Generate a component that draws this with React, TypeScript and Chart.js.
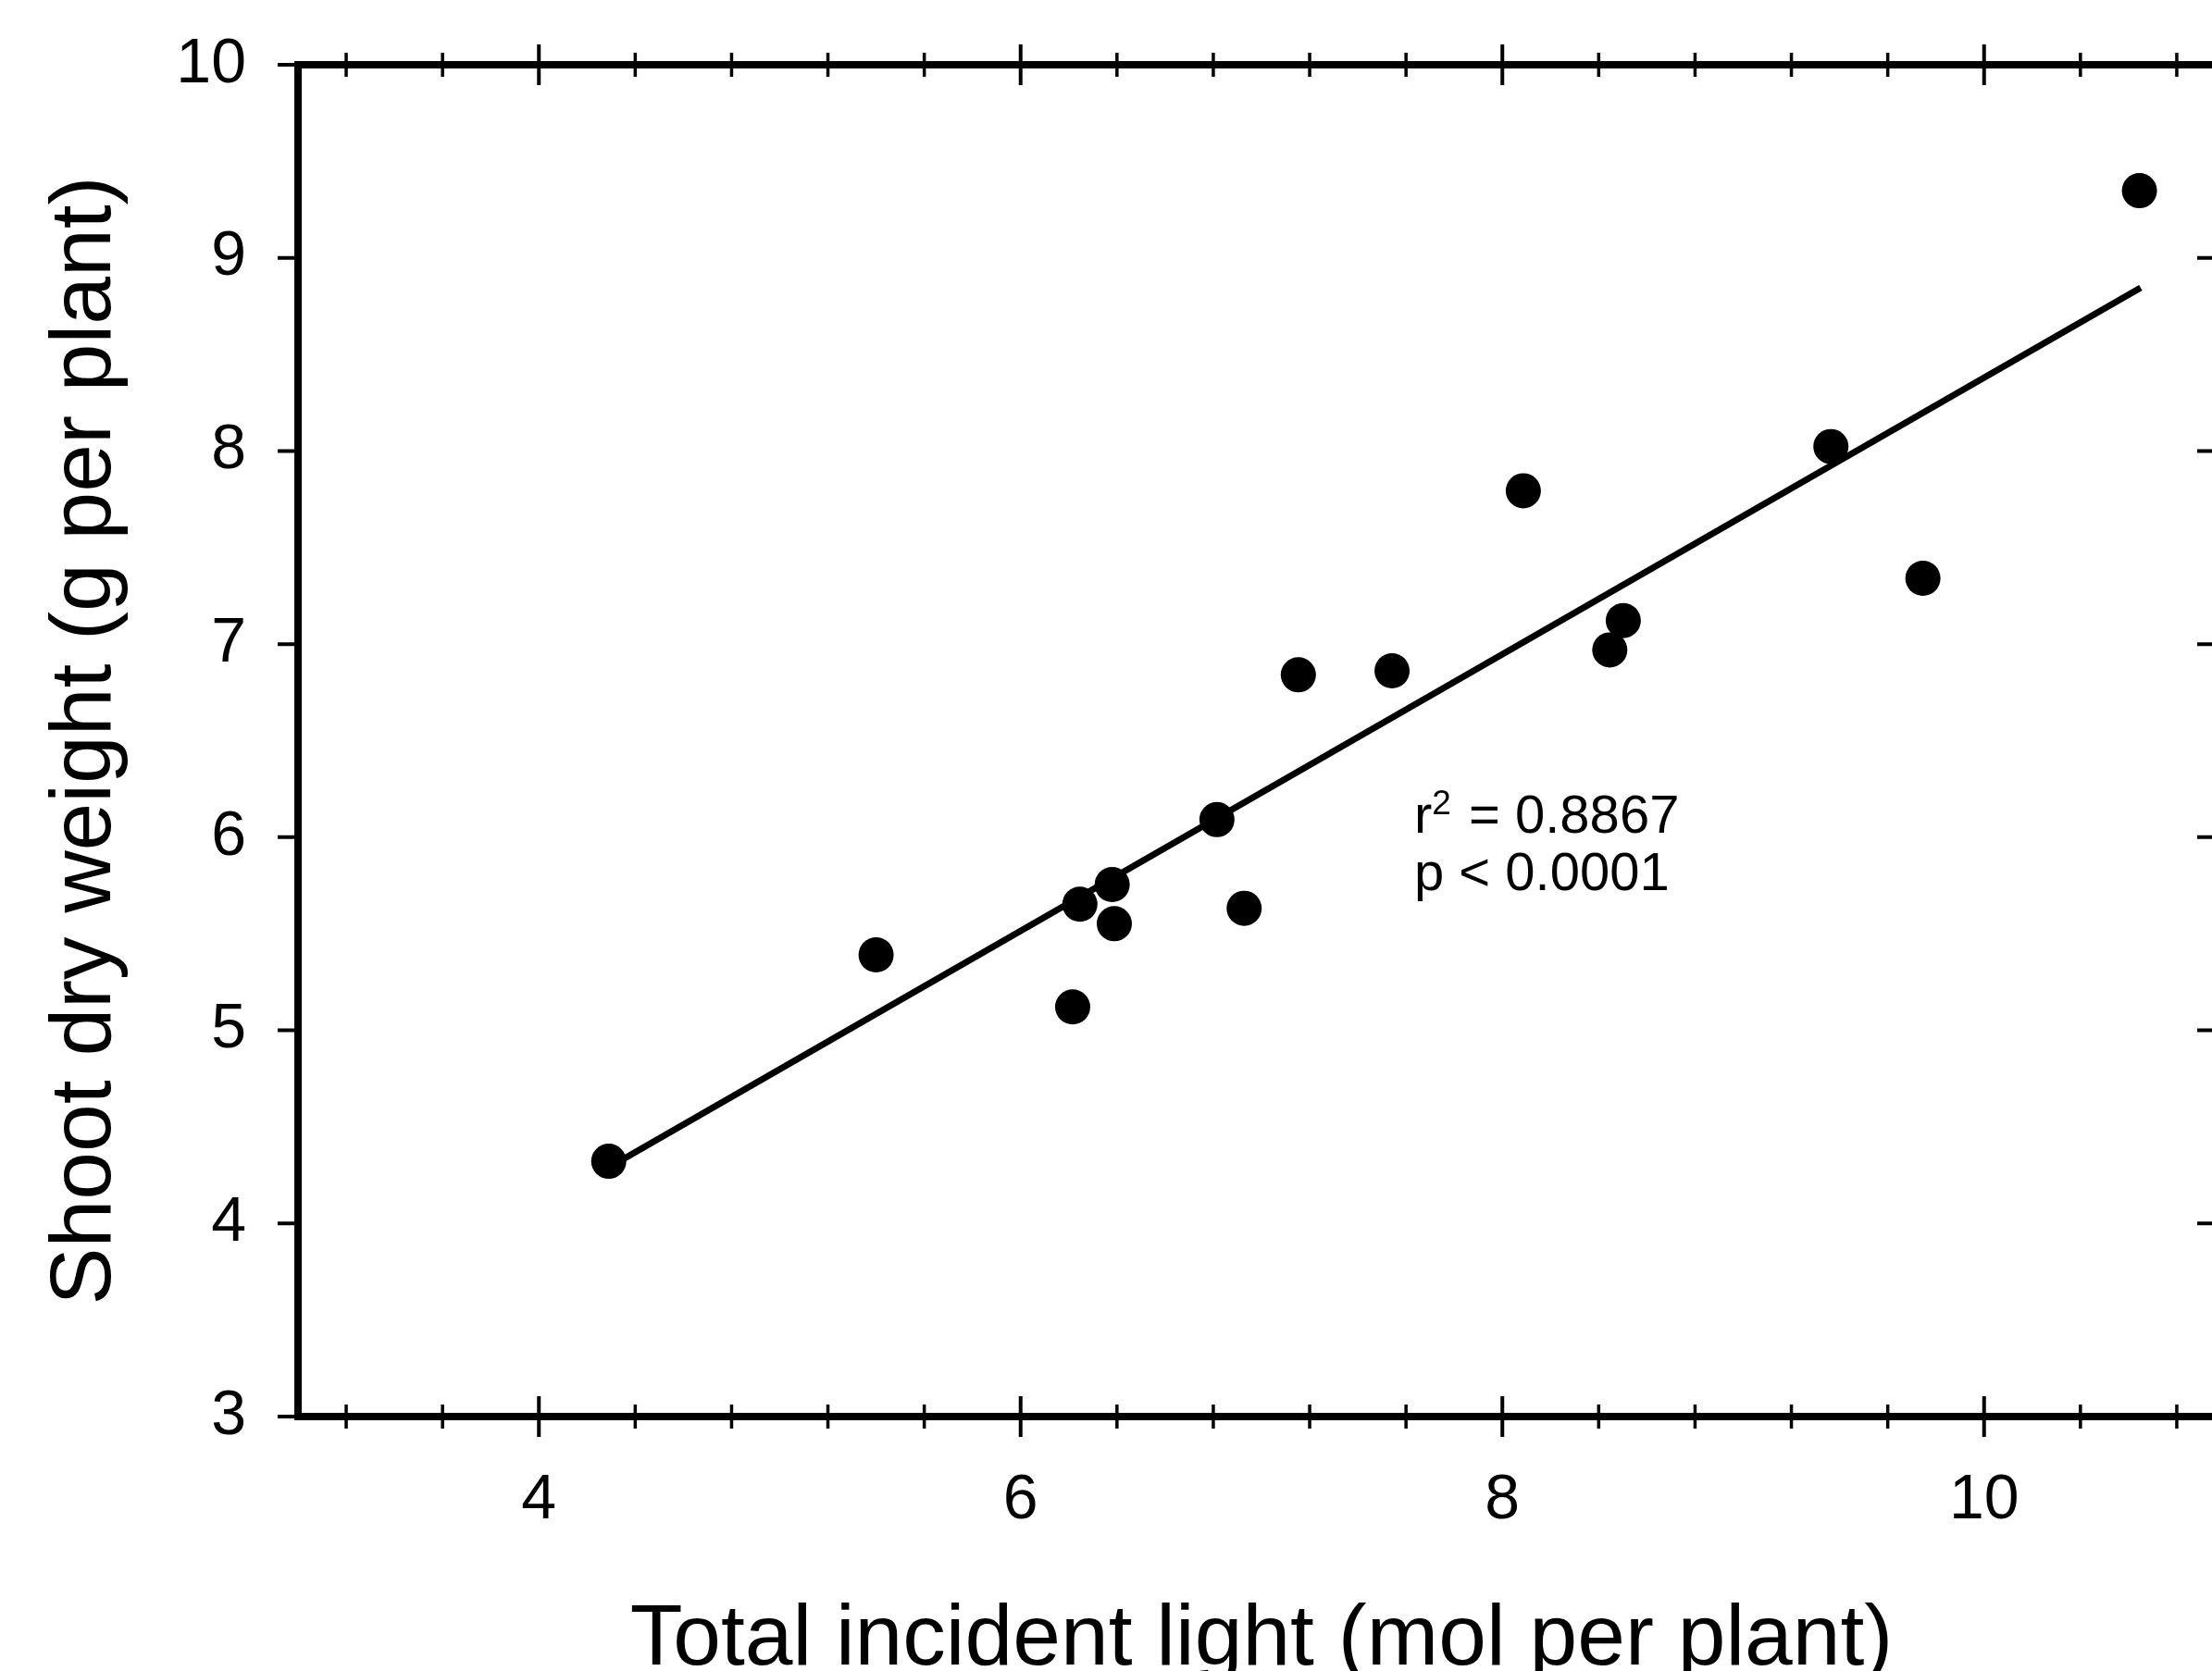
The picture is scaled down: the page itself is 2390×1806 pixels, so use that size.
import React, { useEffect, useRef } from "react";
import { Chart, registerables } from "chart.js";

Chart.register(...registerables);

// ---- data ----
const lightX = [4.29, 5.4, 6.216, 6.246, 6.38, 6.389, 6.815, 6.928, 7.153, 7.542, 8.087, 8.446, 8.502, 9.364, 9.746, 10.645];
const weightY = [4.322, 5.391, 5.121, 5.653, 5.755, 5.552, 6.091, 5.632, 6.841, 6.862, 7.794, 6.97, 7.122, 8.023, 7.341, 9.348];

// regression line end points
const fitX = [4.29, 10.65];
const fitY = [4.29, 8.845];

// axis ticks
const xMajorTicks = [4, 6, 8, 10];
const xMinorTicks = [3.2, 3.6, 4.4, 4.8, 5.2, 5.6, 6.4, 6.8, 7.2, 7.6, 8.4, 8.8, 9.2, 9.6, 10.4, 10.8];
const yMajorTicks = [3, 4, 5, 6, 7, 8, 9, 10];

// annotation text and anchor (data coordinates)
const annotR = "r";
const annotSup = "2";
const annotRest = "= 0.8867";
const annotP = "p < 0.0001";
const annotX = 7.634;
const annotY = [6.023, 5.726];

const xTitle = "Total incident light (mol per plant)";
const yTitle = "Shoot dry weight (g per plant)";

const FONT = "'Liberation Sans', Arial, Helvetica, sans-serif";

const framePlugin = {
  id: "framePlugin",
  afterDraw(chart: any) {
    const { ctx, chartArea } = chart;
    const { left, right, top, bottom } = chartArea;
    const xs = chart.scales.x;
    const ys = chart.scales.y;
    ctx.save();
    ctx.strokeStyle = "#000";
    ctx.lineCap = "butt";

    // x major ticks (cross the bottom and top axis lines)
    ctx.lineWidth = 4;
    ctx.beginPath();
    for (const v of xMajorTicks) {
      const px = xs.getPixelForValue(v);
      ctx.moveTo(px, bottom - 22);
      ctx.lineTo(px, bottom + 22);
      ctx.moveTo(px, top - 22);
      ctx.lineTo(px, top + 22);
    }
    ctx.stroke();

    // x minor ticks
    ctx.lineWidth = 3.5;
    ctx.beginPath();
    for (const v of xMinorTicks) {
      const px = xs.getPixelForValue(v);
      ctx.moveTo(px, bottom - 13);
      ctx.lineTo(px, bottom + 13);
      ctx.moveTo(px, top - 13);
      ctx.lineTo(px, top + 13);
    }
    ctx.stroke();

    // y ticks: outward on left, inward on right
    ctx.lineWidth = 4;
    ctx.beginPath();
    for (const v of yMajorTicks) {
      const py = ys.getPixelForValue(v);
      ctx.moveTo(left - 22, py);
      ctx.lineTo(left, py);
      ctx.moveTo(right - 30, py);
      ctx.lineTo(right, py);
    }
    ctx.stroke();

    // frame
    ctx.lineWidth = 8;
    ctx.lineJoin = "miter";
    ctx.strokeRect(left, top, right - left, bottom - top);

    // annotation
    ctx.fillStyle = "#000";
    ctx.textBaseline = "alphabetic";
    ctx.textAlign = "left";
    const ax = xs.getPixelForValue(annotX);
    const ay1 = ys.getPixelForValue(annotY[0]);
    const ay2 = ys.getPixelForValue(annotY[1]);
    ctx.font = `58px ${FONT}`;
    ctx.fillText(annotR, ax, ay1);
    const wr = ctx.measureText(annotR).width;
    ctx.font = `37px ${FONT}`;
    ctx.fillText(annotSup, ax + wr, ay1 - 20);
    const ws = ctx.measureText(annotSup).width;
    ctx.font = `58px ${FONT}`;
    const wsp = ctx.measureText(" ").width;
    ctx.fillText(annotRest, ax + wr + ws + wsp + 3, ay1);
    ctx.fillText(annotP, ax, ay2);

    ctx.restore();
  },
};

export default function App() {
  const canvasRef = useRef<HTMLCanvasElement | null>(null);

  useEffect(() => {
    const canvas = canvasRef.current;
    if (!canvas) return;
    const chart = new Chart(canvas, {
      type: "scatter",
      data: {
        datasets: [
          {
            type: "line",
            data: fitX.map((x, i) => ({ x, y: fitY[i] })),
            borderColor: "#000",
            borderWidth: 7,
            pointRadius: 0,
            fill: false,
            showLine: true,
            order: 2,
          } as any,
          {
            type: "scatter",
            data: lightX.map((x, i) => ({ x, y: weightY[i] })),
            pointRadius: 19,
            pointBackgroundColor: "#000",
            pointBorderWidth: 0,
            pointBorderColor: "#000",
            order: 1,
          },
        ],
      },
      options: {
        responsive: false,
        animation: false,
        devicePixelRatio: 1,
        events: [],
        layout: { padding: { top: 70, right: 36, bottom: 0, left: 0 } },
        plugins: {
          legend: { display: false },
          tooltip: { enabled: false },
          title: { display: false },
        },
        scales: {
          x: {
            type: "linear",
            position: "bottom",
            min: 3,
            max: 11,
            afterBuildTicks: (s: any) => {
              s.ticks = xMajorTicks.map((v) => ({ value: v }));
            },
            afterFit: (s: any) => {
              s.height = 275;
              s.paddingLeft = 0;
              s.paddingRight = 0;
              s.paddingTop = 0;
              s.paddingBottom = 0;
            },
            grid: { display: false, drawTicks: false },
            border: { display: false },
            ticks: {
              color: "#000",
              font: { family: FONT, size: 68 },
              padding: 50,
              maxRotation: 0,
              autoSkip: false,
              callback: (v: any) => String(v),
            },
            title: {
              display: true,
              text: xTitle,
              color: "#000",
              font: { family: FONT, size: 93, lineHeight: 0.7 },
              padding: { top: 0, bottom: 0 },
            },
          },
          y: {
            type: "linear",
            position: "left",
            min: 3,
            max: 10,
            afterBuildTicks: (s: any) => {
              s.ticks = yMajorTicks.map((v) => ({ value: v }));
            },
            afterFit: (s: any) => {
              s.width = 322;
              s.paddingLeft = 0;
              s.paddingRight = 0;
              s.paddingTop = 0;
              s.paddingBottom = 0;
            },
            grid: { display: false, drawTicks: false },
            border: { display: false },
            ticks: {
              color: "#000",
              font: { family: FONT, size: 68 },
              padding: 56,
              autoSkip: false,
              callback: (v: any) => String(v),
            },
            title: {
              display: true,
              text: yTitle,
              color: "#000",
              font: { family: FONT, size: 93, lineHeight: 0.8 },
              padding: { top: 56, bottom: 0 },
            },
          },
        },
      } as any,
      plugins: [framePlugin],
    });
    return () => chart.destroy();
  }, []);

  return (
    <div
      style={{
        position: "fixed",
        left: 0,
        top: 0,
        width: "100vw",
        height: "100vh",
        overflow: "hidden",
        background: "#fff",
      }}
    >
      <canvas
        ref={canvasRef}
        width={2440}
        height={1806}
        style={{ display: "block", width: 2440, height: 1806 }}
      />
    </div>
  );
}
